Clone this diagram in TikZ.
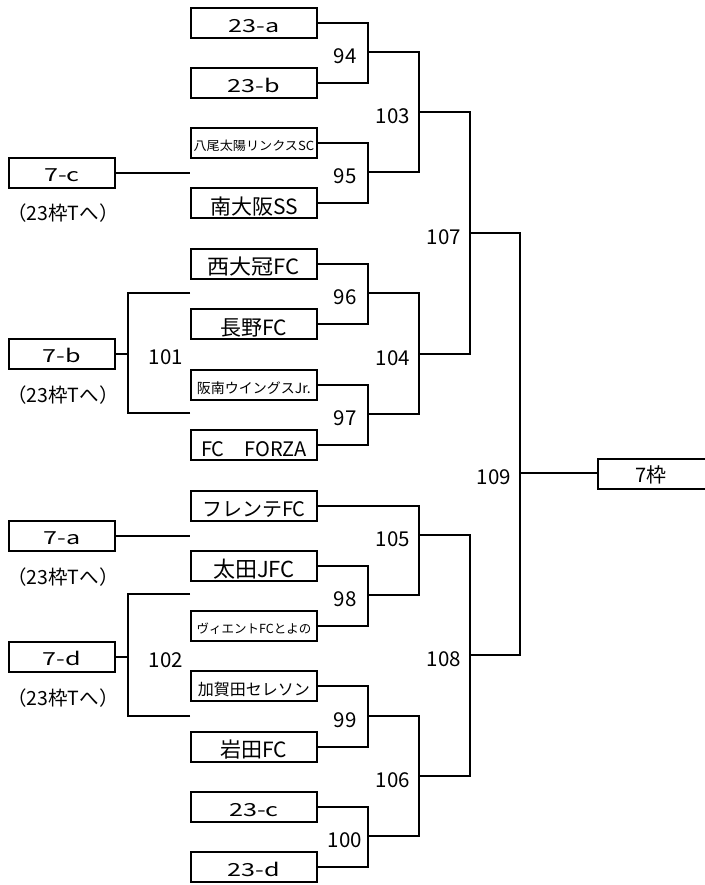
\documentclass[tikz,border=0pt]{standalone}
\usepackage{fontspec}
\usepackage{graphicx}
\setmainfont{Noto Sans CJK JP}
\newcommand{\fs}[1]{\fontsize{#1}{#1}\selectfont}
\newcommand{\wx}[2]{\scalebox{#1}[1]{#2}}
\begin{document}
\begin{tikzpicture}[x=1pt,y=-1pt,line width=1.8pt,
  tbox/.style={draw,line width=1.8pt,minimum width=126pt,minimum height=30pt,inner sep=0pt,text height=25pt,text depth=5pt,anchor=north west},
  lbox/.style={tbox,minimum width=106pt},
  num/.style={inner sep=0pt,font=\fs{20.5}},
  note/.style={inner sep=0pt,anchor=base,font=\fs{19.5}}]
\useasboundingbox (0,0) rectangle (704,885);
% team boxes
\node[tbox,font=\fs{18}] (t1) at (190,7) {\wx{1.4}{23-a}};
\node[tbox,font=\fs{18}] (t2) at (190,67) {\wx{1.4}{23-b}};
\node[tbox,font=\fs{12.5},text depth=7pt,text height=23pt] (t3) at (190,127) {\wx{1.05}{八尾太陽リンクスSC}};
\node[tbox,font=\fs{21},text depth=3.5pt,text height=26.5pt] (t4) at (190,187) {南大阪SS};
\node[tbox,font=\fs{21},text depth=4pt,text height=26pt] (t5) at (190,248) {\wx{1.05}{西大冠FC}};
\node[tbox,font=\fs{21},text depth=3.5pt,text height=26.5pt] (t6) at (190,308) {長野FC};
\node[tbox,font=\fs{14},text depth=6pt,text height=24pt] (t7) at (190,369) {阪南ウイングスJr.};
\node[tbox,font=\fs{20},text depth=3pt,text height=27pt] (t8) at (190,429) {FC　FORZA};
\node[tbox,font=\fs{20},text depth=4pt,text height=26pt] (t9) at (190,490) {フレンテFC};
\node[tbox,font=\fs{22},text depth=3pt,text height=27pt] (t10) at (190,550) {太田JFC};
\node[tbox,font=\fs{12.5},text depth=7pt,text height=23pt] (t11) at (190,610) {ヴィエントFCとよの};
\node[tbox,font=\fs{16},text depth=5.5pt,text height=24.5pt] (t12) at (190,670) {加賀田セレソン};
\node[tbox,font=\fs{21},text depth=4pt,text height=26pt] (t13) at (190,731) {岩田FC};
\node[tbox,font=\fs{18}] (t14) at (190,791) {\wx{1.4}{23-c}};
\node[tbox,font=\fs{18}] (t15) at (190,851) {\wx{1.4}{23-d}};
% left boxes
\node[lbox,font=\fs{18},text depth=6.5pt,text height=23.5pt] (l1) at (8,157) {\wx{1.4}{7-c}};
\node[lbox,font=\fs{18},text depth=6.5pt,text height=23.5pt] (l2) at (8,338) {\wx{1.4}{7-b}};
\node[lbox,font=\fs{18},text depth=6.5pt,text height=23.5pt] (l3) at (8,520) {\wx{1.4}{7-a}};
\node[lbox,font=\fs{18},text depth=6.5pt,text height=23.5pt] (l4) at (8,641) {\wx{1.4}{7-d}};
\node[note] (n1) at (63,221) {（23枠Tへ）};
\node[note] (n2) at (63,402) {（23枠Tへ）};
\node[note] (n3) at (63,584) {（23枠Tへ）};
\node[note] (n4) at (63,705) {（23枠Tへ）};
% final box
\node[tbox,minimum width=109pt,font=\fs{20},text depth=6pt,text height=24pt] (w) at (597,458) {7枠\hspace*{2pt}};
% junctions
\coordinate (m94) at (368,52);
\coordinate (m95) at (368,172);
\coordinate (m96) at (368,293);
\coordinate (m97) at (368,414);
\coordinate (m98) at (368,595);
\coordinate (m99) at (368,716);
\coordinate (m100) at (368,836);
\coordinate (m103) at (419,112);
\coordinate (m104) at (419,354);
\coordinate (m105) at (419,535);
\coordinate (m106) at (419,776);
\coordinate (m107) at (470,233);
\coordinate (m108) at (470,655);
\coordinate (m109) at (520,473);
\coordinate (e7c) at (190,172);
\coordinate (e7a) at (190,535);
\coordinate (b1) at (190,293);
\coordinate (b2) at (190,413);
\coordinate (j101) at (128,353);
\coordinate (b3) at (190,594);
\coordinate (b4) at (190,716);
\coordinate (j102) at (128,656);
% first round
\draw (t1.east) -| (m94); \draw (t2.east) -| (m94);
\draw (t3.east) -| (m95); \draw (t4.east) -| (m95);
\draw (t5.east) -| (m96); \draw (t6.east) -| (m96);
\draw (t7.east) -| (m97); \draw (t8.east) -| (m97);
\draw (t10.east) -| (m98); \draw (t11.east) -| (m98);
\draw (t12.east) -| (m99); \draw (t13.east) -| (m99);
\draw (t14.east) -| (m100); \draw (t15.east) -| (m100);
% later rounds
\draw (m94) -| (m103); \draw (m95) -| (m103);
\draw (m96) -| (m104); \draw (m97) -| (m104);
\draw (t9.east) -| (m105); \draw (m98) -| (m105);
\draw (m99) -| (m106); \draw (m100) -| (m106);
\draw (m103) -| (m107); \draw (m104) -| (m107);
\draw (m105) -| (m108); \draw (m106) -| (m108);
\draw (m107) -| (m109); \draw (m108) -| (m109);
\draw (m109) -- (m109 -| w.west);
% left side
\draw (l1.east) -- (l1.east -| e7c);
\draw (l3.east) -- (l3.east -| e7a);
\draw (b1) -| (j101); \draw (b2) -| (j101); \draw (l2.east) -- (l2.east -| j101);
\draw (b3) -| (j102); \draw (b4) -| (j102); \draw (l4.east) -- (l4.east -| j102);
% match numbers
\node[num] (x94) at (345,56) {94};
\node[num] (x95) at (345,176) {95};
\node[num] (x96) at (345,297) {96};
\node[num] (x97) at (345,418) {97};
\node[num] (x98) at (345,599) {98};
\node[num] (x99) at (345,720) {99};
\node[num] (x100) at (345,840) {100};
\node[num,anchor=east] (x103) at (411,116) {103};
\node[num,anchor=east] (x104) at (411,358) {104};
\node[num,anchor=east] (x105) at (411,539) {105};
\node[num,anchor=east] (x106) at (411,780) {106};
\node[num,anchor=east] (x107) at (462,237) {107};
\node[num,anchor=east] (x108) at (462,659) {108};
\node[num,anchor=east] (x109) at (512,477) {109};
\node[num] (x101) at (166,357) {101};
\node[num] (x102) at (166,660) {102};
\end{tikzpicture}
\end{document}
